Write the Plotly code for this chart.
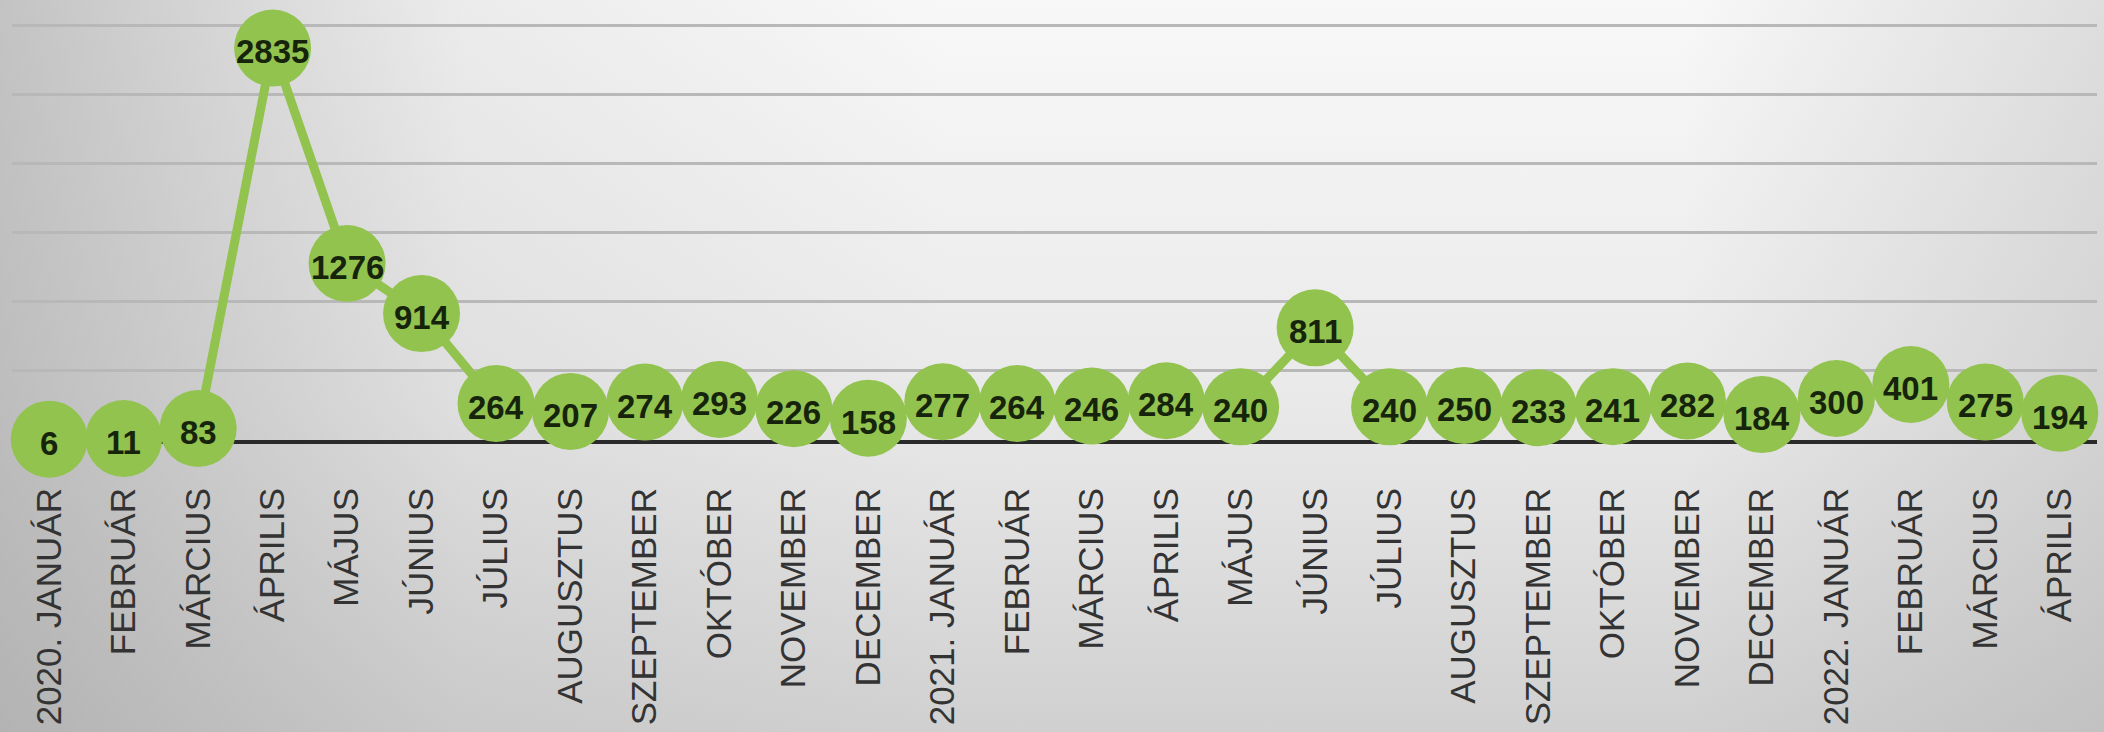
import base64
import plotly.graph_objects as go

months = ["2020. JANUÁR", "FEBRUÁR", "MÁRCIUS", "ÁPRILIS", "MÁJUS", "JÚNIUS",
          "JÚLIUS", "AUGUSZTUS", "SZEPTEMBER", "OKTÓBER", "NOVEMBER", "DECEMBER",
          "2021. JANUÁR", "FEBRUÁR", "MÁRCIUS", "ÁPRILIS", "MÁJUS", "JÚNIUS",
          "JÚLIUS", "AUGUSZTUS", "SZEPTEMBER", "OKTÓBER", "NOVEMBER", "DECEMBER",
          "2022. JANUÁR", "FEBRUÁR", "MÁRCIUS", "ÁPRILIS"]
values = [6, 11, 83, 2835, 1276, 914, 264, 207, 274, 293, 226, 158,
          277, 264, 246, 284, 240, 811, 240, 250, 233, 241, 282, 184,
          300, 401, 275, 194]
y_ticks = [0, 500, 1000, 1500, 2000, 2500, 3000]

W, H = 2104, 732
ML, MR, MT, MB = 12, 7, 21, 292
pw, ph = W - ML - MR, H - MT - MB

GREEN = "#92c34f"

svg = f"""<svg xmlns='http://www.w3.org/2000/svg' width='{W}' height='{H}' viewBox='0 0 {W} {H}' preserveAspectRatio='none'>
<defs>
<linearGradient id='v' x1='0' y1='0' x2='0' y2='1'>
<stop offset='0' stop-color='#f8f8f8'/>
<stop offset='0.55' stop-color='#e9e9e9'/>
<stop offset='1' stop-color='#d0d0d0'/>
</linearGradient>
<linearGradient id='h' x1='0' y1='0' x2='1' y2='0'>
<stop offset='0' stop-color='#a0a0a0' stop-opacity='0.6'/>
<stop offset='0.22' stop-color='#a0a0a0' stop-opacity='0.14'/>
<stop offset='0.45' stop-color='#a0a0a0' stop-opacity='0'/>
<stop offset='0.8' stop-color='#a0a0a0' stop-opacity='0'/>
<stop offset='1' stop-color='#a0a0a0' stop-opacity='0.3'/>
</linearGradient>
</defs>
<rect width='{W}' height='{H}' fill='url(#v)'/>
<rect width='{W}' height='{H}' fill='url(#h)'/>
</svg>"""
src = "data:image/svg+xml;base64," + base64.b64encode(svg.encode()).decode()

xs = list(range(len(months)))

fig = go.Figure()
fig.add_trace(go.Scatter(
    x=xs, y=values, mode="lines+markers",
    line=dict(color=GREEN, width=9),
    marker=dict(color=GREEN, size=77, line=dict(width=0)),
    cliponaxis=False, hoverinfo="skip", showlegend=False,
))

for xi, v in zip(xs, values):
    fig.add_annotation(
        x=xi, y=v, xref="x", yref="y", text=str(v), showarrow=False,
        yshift=-4, xanchor="center", yanchor="middle",
        font=dict(family="Liberation Sans", size=33, color="#16240c", weight="bold"),
    )

fig.update_layout(
    width=W, height=H,
    margin=dict(l=ML, r=MR, t=MT, b=MB, pad=0),
    paper_bgcolor="#e4e4e4", plot_bgcolor="rgba(0,0,0,0)",
    images=[dict(source=src, xref="paper", yref="paper",
                 x=-ML / pw, y=1 + MT / ph, sizex=W / pw, sizey=H / ph,
                 sizing="stretch", xanchor="left", yanchor="top", layer="below")],
    xaxis=dict(
        tickmode="array", tickvals=xs, ticktext=months, tickangle=-90,
        range=[-0.5, len(months) - 0.5], showgrid=False, zeroline=False,
        showline=True, linecolor="#2a2a2a", linewidth=4, layer="below traces",
        ticks="", ticklabelstandoff=30,
        tickfont=dict(family="Liberation Sans", size=35, color="#333333"),
    ),
    yaxis=dict(
        range=[0, 3030], tickmode="array", tickvals=y_ticks, showticklabels=False,
        showgrid=True, gridcolor="#b8b8b8", gridwidth=3, zeroline=False,
        showline=False, layer="below traces",
    ),
)

fig.write_html("out.html",
               config={"displayModeBar": False, "staticPlot": True},
               post_script="document.body.style.margin='0';document.body.style.overflow='hidden';")
